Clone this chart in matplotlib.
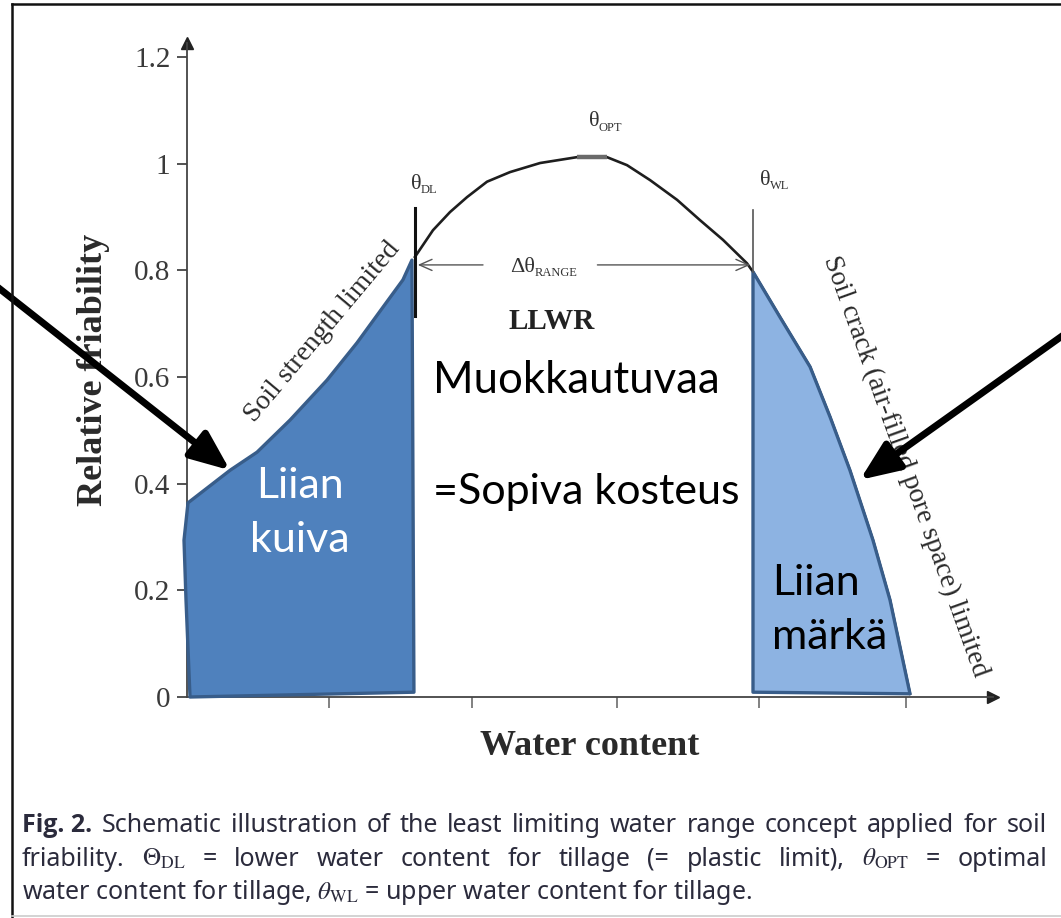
import matplotlib
matplotlib.use('Agg')
import matplotlib.pyplot as plt
from matplotlib import font_manager
from matplotlib.patches import Polygon
from matplotlib.lines import Line2D
import numpy as np

# ***************************** data *****************************
# friability curve from theta_DL over theta_OPT to theta_WL
curve_x = [1.594, 1.72, 1.839, 1.958, 2.098, 2.259, 2.469, 2.727, 2.937, 3.077, 3.238, 3.427, 3.587, 3.748, 3.916]
curve_y = [0.825, 0.875, 0.909, 0.937, 0.966, 0.984, 1.001, 1.012, 1.012, 0.997, 0.969, 0.932, 0.894, 0.857, 0.813]

# wet side ("soil crack limited") edge of the curve, theta_WL to the end
wet_x = [3.958, 4.147, 4.357, 4.497, 4.636, 4.797, 4.916, 5.056]
wet_y = [0.797, 0.712, 0.619, 0.525, 0.425, 0.294, 0.182, 0.006]

# dry side ("soil strength limited") region outline
dry_x = [0.007, 0.301, 0.49, 0.72, 0.979, 1.189, 1.371, 1.51, 1.573, 1.587, 0.021, -0.007, -0.021]
dry_y = [0.364, 0.425, 0.459, 0.519, 0.594, 0.664, 0.731, 0.782, 0.819, 0.009, 0.0, 0.182, 0.294]

theta_dl = 1.594
theta_wl = 3.958
theta_opt = (2.727, 2.937)   # flat top of the curve
range_y = 0.81
range_gap = (2.07, 2.87)     # where the range arrow breaks for its label

x_ticks = [0.99, 1.99, 3.01, 4.0, 5.03]
y_ticks = [0, 0.2, 0.4, 0.6, 0.8, 1.0, 1.2]
y_tick_labels = ['0', '0.2', '0.4', '0.6', '0.8', '1', '1.2']

# pointer arrows (tail, tip) in data units
dry_arrow = ((-1.413, 0.787), (0.301, 0.425))
wet_arrow = ((6.21, 0.694), (4.706, 0.407))

caption_lines = [
    ['Fig. 2.', 'Schematic', 'illustration', 'of', 'the', 'least', 'limiting', 'water',
     'range', 'concept', 'applied', 'for', 'soil'],
    ['friability.', r'$\Theta_{\rm DL}$', '=', 'lower', 'water', 'content', 'for', 'tillage',
     '(=', 'plastic', 'limit),', r'$\theta_{\rm OPT}$', '=', 'optimal'],
]
caption_last = r'water content for tillage, $\theta_{\rm WL}$ = upper water content for tillage.'


def pick_font(names, weight='normal'):
    for n in names:
        try:
            f = font_manager.findfont(font_manager.FontProperties(family=n, weight=weight),
                                      fallback_to_default=False)
            if weight == 'bold' and 'bold' not in f.lower():
                continue
            return n
        except Exception:
            pass
    return 'DejaVu Sans'


SERIF = pick_font(['Liberation Serif', 'DejaVu Serif'])
SANS = pick_font(['Lato', 'Open Sans', 'DejaVu Sans'])
CAPF = pick_font(['Noto Sans', 'Open Sans', 'DejaVu Sans'])
CAPF_BOLD = pick_font([CAPF, 'Open Sans', 'Liberation Sans', 'DejaVu Sans'], weight='bold')
plt.rcParams['mathtext.fontset'] = 'stix'

W, H = 1061, 918
fig = plt.figure(figsize=(W / 100, H / 100), dpi=100)
ax = fig.add_axes([187 / W, 1 - 697 / H, 806 / W, 654 / H])
ax.set_xlim(0, 806 / 143)
ax.set_ylim(0, 1.226)

axis_col = '#444444'
for s in ['top', 'right']:
    ax.spines[s].set_visible(False)
for s in ['left', 'bottom']:
    ax.spines[s].set_color(axis_col)
    ax.spines[s].set_linewidth(1.3)
# arrow heads on the axes
ax.plot(0, 1, marker='^', ms=9, color='#222222', transform=ax.transAxes, clip_on=False)
ax.plot(1, 0, marker='>', ms=9, color='#222222', transform=ax.transAxes, clip_on=False)

ax.set_xticks(x_ticks)
ax.set_xticklabels([])
ax.set_yticks(y_ticks)
ax.set_yticklabels(y_tick_labels, family=SERIF, fontsize=21, color='#3a3a3a')
ax.tick_params(axis='y', direction='out', length=7, width=1.3, color=axis_col, pad=5)
ax.tick_params(axis='x', direction='out', length=8, width=1.3, color='#777777')

ax.set_ylabel('Relative friability', family=SERIF, fontsize=26, fontweight='bold',
              color='#2a2a2a', labelpad=17)
ax.set_xlabel('Water content', family=SERIF, fontsize=26, fontweight='bold',
              color='#2a2a2a', labelpad=12)

# friability curve (black), theta_DL -> end
ax.plot(curve_x + wet_x, curve_y + wet_y, color='#1e1e1e', lw=1.9, zorder=4, clip_on=False,
        solid_joinstyle='round')
ax.plot(theta_opt, [1.012, 1.012], color='#6a6a6a', lw=3.2, zorder=4, solid_capstyle='butt')

# dry region
ax.add_patch(Polygon(np.column_stack([dry_x, dry_y]), closed=True, fc='#4F81BD',
                     ec='#385D8A', lw=2.4, zorder=5, clip_on=False, joinstyle='round'))

# wet region: curve edge plus the foot at theta_WL
wx = np.array(wet_x + [theta_wl])
wy = np.array(wet_y + [0.009])
ax.add_patch(Polygon(np.column_stack([wx, wy]), closed=True, fc='#8DB3E2',
                     ec='#385D8A', lw=2.4, zorder=5, clip_on=False, joinstyle='round'))

# theta_DL / theta_WL markers
ax.plot([theta_dl, theta_dl], [0.714, 0.917], color='#111111', lw=2.2, zorder=6)
ax.plot([theta_wl, theta_wl], [0.797, 0.913], color='#555555', lw=1.2, zorder=6)

# range arrow, in two halves around its label (open heads)
arr = dict(arrowstyle='->,head_length=0.9,head_width=0.4', color='#555555', lw=1.0,
           shrinkA=0, shrinkB=0)
ax.annotate('', xy=(theta_dl + 0.02, range_y), xytext=(range_gap[0], range_y),
            arrowprops=arr, zorder=6)
ax.annotate('', xy=(theta_wl - 0.02, range_y), xytext=(range_gap[1], range_y),
            arrowprops=arr, zorder=6)


def theta_label(x, y, main, sub):
    t = ax.annotate(main, (x, y), family=SERIF, fontsize=16, color='#333333',
                    ha='left', va='baseline', zorder=7)
    ax.annotate(sub, xy=(1, 0), xycoords=t, xytext=(-0.5, 0.5), textcoords='offset points',
                family=SERIF, fontsize=9, color='#333333', ha='left', va='baseline', zorder=8)


theta_label(1.566, 0.952, 'θ', 'DL')
theta_label(2.81, 1.07, 'θ', 'OPT')
theta_label(4.01, 0.96, 'θ', 'WL')
theta_label(2.26, 0.797, 'Δθ', 'RANGE')

ax.text(2.55, 0.703, 'LLWR', family=SERIF, fontsize=21, fontweight='bold', color='#222222',
        ha='center', va='center')

ax.text(0.944, 0.684, 'Soil strength limited', family=SERIF, fontsize=20, color='#2a2a2a',
        rotation=50, rotation_mode='anchor', ha='center', va='center')
ax.text(5.02, 0.433, 'Soil crack (air-filled pore space) limited', family=SERIF, fontsize=20,
        color='#2a2a2a', rotation=-70.2, rotation_mode='anchor', ha='center', va='center')

# Finnish labels
ax.text(1.72, 0.594, 'Muokkautuvaa', family=SANS, fontsize=31.5, color='black',
        ha='left', va='center')
ax.text(1.72, 0.384, '=Sopiva kosteus', family=SANS, fontsize=31, color='black',
        ha='left', va='center')
ax.text(0.79, 0.345, 'Liian\nkuiva', family=SANS, fontsize=31, color='white',
        ha='center', va='center', linespacing=1.5, zorder=8)
ax.text(4.09, 0.163, 'Liian\nmärkä', family=SANS, fontsize=31, color='black',
        ha='left', va='center', linespacing=1.5, zorder=8)

# thick pointer arrows
for tail, tip in [dry_arrow, wet_arrow]:
    ax.annotate('', xy=tip, xytext=tail, annotation_clip=False, zorder=9,
                arrowprops=dict(arrowstyle='-|>,head_length=2.4,head_width=1.0', color='black',
                                lw=5, shrinkA=0, shrinkB=0, mutation_scale=10))

# caption, first two lines justified
cap_col = '#2b2b3c'
cap_fs = 18
x0, x1 = 22, 1047
baselines = [832, 866, 899]
renderer = fig.canvas.get_renderer()
for words, yb in zip(caption_lines, baselines):
    texts = []
    for w in words:
        bold = (w == 'Fig. 2.')
        t = fig.text(0, 1 - yb / H, w, family=CAPF_BOLD if bold else CAPF, fontsize=cap_fs,
                     color=cap_col, fontweight='bold' if bold else 'normal',
                     va='baseline', ha='left')
        texts.append(t)
    widths = [t.get_window_extent(renderer).width for t in texts]
    gap = (x1 - x0 - sum(widths)) / (len(words) - 1)
    x = x0
    for t, w in zip(texts, widths):
        t.set_x(x / W)
        x += w + gap
fig.text(x0 / W, 1 - baselines[2] / H, caption_last, family=CAPF, fontsize=cap_fs,
         color=cap_col, va='baseline', ha='left')

# frame round the picture
fig.add_artist(Line2D([12 / W, 12 / W], [0, 1 - 4 / H], transform=fig.transFigure,
                      color='#111111', lw=1.8))
fig.add_artist(Line2D([12 / W, 1], [1 - 4 / H, 1 - 4 / H], transform=fig.transFigure,
                      color='#111111', lw=1.8))
fig.add_artist(Line2D([12 / W, 1], [1 - 916 / H, 1 - 916 / H], transform=fig.transFigure,
                      color='#cccccc', lw=1.2))

fig.savefig('out.png', dpi=100)
